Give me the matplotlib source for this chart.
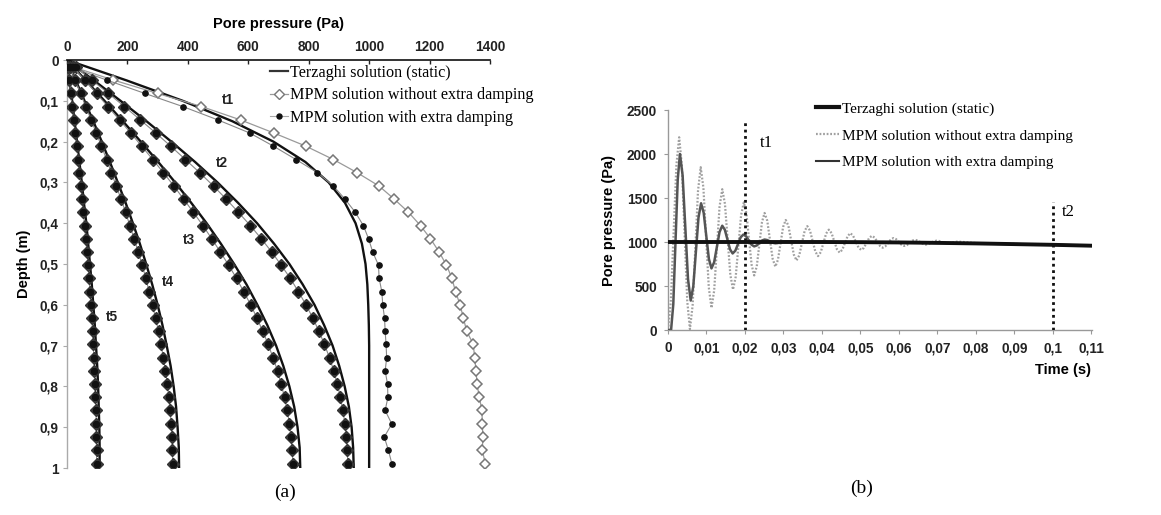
import matplotlib
matplotlib.use("Agg")
import matplotlib.pyplot as plt
from matplotlib.lines import Line2D

# ---------------- Panel (a) data ----------------
# Terzaghi (static) solution, depth grid for lines
terz_depth = [0.0, 0.05, 0.1, 0.15, 0.2, 0.25, 0.3, 0.35, 0.4, 0.45, 0.5,
              0.55, 0.6, 0.65, 0.7, 0.75, 0.8, 0.85, 0.9, 0.95, 1.0]
terz_t1 = [0, 197, 383, 547, 683, 789, 866, 920, 955, 976, 988,
           994, 997, 999, 1000, 1000, 1000, 1000, 1000, 1000, 1000]
terz_t2 = [0, 89, 177, 263, 345, 424, 498, 566, 629, 685, 736,
           780, 819, 851, 879, 901, 919, 933, 942, 947, 949]
terz_t3 = [0, 62, 124, 185, 244, 302, 358, 411, 462, 509, 553,
           594, 630, 663, 692, 716, 736, 752, 763, 770, 772]
terz_t4 = [0, 29, 58, 87, 115, 142, 168, 194, 218, 241, 262,
           282, 300, 316, 330, 343, 353, 361, 366, 370, 371]
terz_t5 = [0, 8, 17, 25, 33, 41, 49, 56, 64, 70, 76,
           82, 87, 92, 96, 100, 103, 105, 107, 108, 108]

# MPM material-point depths
mpm_depth = [0.017, 0.049, 0.082, 0.114, 0.147, 0.179, 0.211, 0.244, 0.276, 0.309,
             0.341, 0.373, 0.406, 0.438, 0.471, 0.503, 0.535, 0.568, 0.600, 0.633,
             0.665, 0.697, 0.730, 0.762, 0.795, 0.827, 0.859, 0.892, 0.924, 0.957, 0.989]
# MPM without extra damping at t1
mpm_nodamp_t1 = [20, 153, 300, 445, 575, 685, 790, 882, 960, 1033,
                 1083, 1130, 1170, 1203, 1232, 1256, 1274, 1286, 1301, 1312,
                 1323, 1345, 1349, 1354, 1357, 1365, 1373, 1375, 1376, 1375, 1384]
# MPM with extra damping at t1
mpm_damp_t1 = [10, 131, 258, 383, 500, 605, 683, 758, 829, 882,
               920, 954, 981, 998, 1012, 1031, 1033, 1042, 1045, 1051,
               1053, 1056, 1058, 1053, 1061, 1062, 1053, 1075, 1050, 1064, 1075]
# MPM results at t2..t5 (both variants coincide)
mpm_t2 = [29, 82, 137, 190, 243, 294, 343, 392, 439, 485,
          527, 567, 607, 643, 678, 709, 739, 766, 791, 814,
          834, 852, 869, 883, 895, 905, 913, 920, 925, 928, 929]
mpm_t3 = [20, 58, 98, 135, 174, 211, 247, 284, 319, 354,
          386, 418, 450, 479, 508, 535, 561, 585, 608, 629,
          648, 666, 682, 697, 709, 720, 729, 736, 741, 745, 748]
mpm_t4 = [9, 27, 45, 62, 80, 97, 114, 131, 147, 163,
          179, 194, 208, 222, 236, 249, 261, 272, 283, 293,
          303, 311, 319, 326, 332, 337, 341, 345, 348, 349, 350]
mpm_t5 = [3, 8, 13, 17, 22, 27, 32, 37, 41, 46,
          50, 54, 58, 62, 66, 70, 73, 76, 79, 82,
          85, 87, 89, 91, 93, 94, 96, 97, 97, 98, 98]

a_xticks = [0, 200, 400, 600, 800, 1000, 1200, 1400]
a_yticks = [0, 0.1, 0.2, 0.3, 0.4, 0.5, 0.6, 0.7, 0.8, 0.9, 1.0]
a_yticklabels = ["0", "0,1", "0,2", "0,3", "0,4", "0,5", "0,6", "0,7", "0,8", "0,9", "1"]

# ---------------- Panel (b) data ----------------
terz_b_time = [0.0, 0.04, 0.05, 0.06, 0.07, 0.08, 0.09, 0.10, 0.11]
terz_b_p = [1000, 1000, 998, 995, 990, 984, 976, 968, 958]

nodamp_time = [0.0, 0.000725, 0.00145, 0.002175, 0.0029,
               0.0036, 0.0043, 0.0050, 0.0057,
               0.0064, 0.0071, 0.0078, 0.0085,
               0.0092, 0.0099, 0.0106, 0.0113,
               0.0120, 0.0127, 0.0134, 0.0141,
               0.0148, 0.0155, 0.0162, 0.0169,
               0.0176, 0.0183, 0.0190, 0.0197,
               0.020375, 0.02105, 0.021725, 0.0224,
               0.023075, 0.02375, 0.024425, 0.0251,
               0.0258, 0.0265, 0.0272, 0.0279,
               0.028575, 0.02925, 0.029925, 0.0306,
               0.0313, 0.0320, 0.0327, 0.0334,
               0.0341, 0.0348, 0.0355, 0.0362,
               0.0369, 0.0376, 0.0383, 0.0390,
               0.0397, 0.0404, 0.0411, 0.0418,
               0.0425, 0.0432, 0.0439, 0.0446,
               0.0453, 0.0460, 0.0467, 0.0474,
               0.0481, 0.0488, 0.0495, 0.0502,
               0.0509, 0.0516, 0.0523, 0.0530,
               0.0537, 0.0544, 0.0551, 0.0558,
               0.0565, 0.0572, 0.0579, 0.0586,
               0.0593, 0.0600, 0.0607, 0.0614,
               0.0621, 0.0628, 0.0635, 0.0642,
               0.0649, 0.0656, 0.0663, 0.0670,
               0.0677, 0.0684, 0.0691, 0.0698,
               0.0705, 0.0712, 0.0719, 0.0726,
               0.0733, 0.0740, 0.0747, 0.0754,
               0.080, 0.090, 0.100, 0.110]
nodamp_p = [0, 321, 1095, 1869, 2190,
            1871, 1100, 329, 10,
            279, 930, 1581, 1850,
            1616, 1050, 484, 250,
            448, 925, 1402, 1600,
            1433, 1030, 627, 460,
            605, 955, 1305, 1450,
            1328, 1035, 742, 620,
            724, 975, 1226, 1330,
            1241, 1025, 809, 720,
            798, 985, 1172, 1250,
            1183, 1020, 857, 790,
            847, 985, 1123, 1180,
            1130, 1010, 890, 840,
            884, 990, 1096, 1140,
            1102, 1010, 918, 880,
            912, 990, 1068, 1100,
            1072, 1005, 938, 910,
            933, 990, 1047, 1070,
            1050, 1003, 955, 935,
            951, 990, 1029, 1045,
            1032, 1000, 968, 955,
            965, 990, 1015, 1025,
            1017, 998, 978, 970,
            977, 993, 1008, 1015,
            1011, 1000, 989, 985,
            988, 995, 1002, 1005,
            988, 978, 968, 958]

damp_time = [0.0, 0.0008, 0.001375, 0.00195, 0.002525, 0.0031,
             0.0038, 0.0045, 0.0052, 0.0059,
             0.006575, 0.00725, 0.007925, 0.0086,
             0.009275, 0.00995, 0.010625, 0.0113,
             0.0120, 0.0127, 0.0134, 0.0141,
             0.014775, 0.01545, 0.016125, 0.0168,
             0.0175, 0.0182, 0.0189, 0.0196,
             0.0203, 0.0210, 0.0217, 0.0224,
             0.023075, 0.02375, 0.024425, 0.0251,
             0.0258, 0.0265, 0.0272, 0.0279,
             0.028575, 0.02925, 0.029925, 0.0306,
             0.035, 0.05, 0.06, 0.07, 0.08, 0.09, 0.10, 0.11]
damp_p = [0, 0, 293, 1000, 1707, 2000,
          1756, 1168, 579, 335,
          497, 888, 1278, 1440,
          1332, 1070, 808, 700,
          771, 943, 1114, 1185,
          1139, 1028, 916, 870,
          901, 978, 1054, 1085,
          1065, 1018, 970, 950,
          961, 989, 1017, 1028,
          1022, 1007, 991, 985,
          988, 997, 1005, 1008,
          1000, 998, 995, 990, 984, 976, 968, 958]

b_xticks = [0, 0.01, 0.02, 0.03, 0.04, 0.05, 0.06, 0.07, 0.08, 0.09, 0.10, 0.11]
b_xticklabels = ["0", "0,01", "0,02", "0,03", "0,04", "0,05", "0,06", "0,07",
                 "0,08", "0,09", "0,1", "0,11"]
b_yticks = [0, 500, 1000, 1500, 2000, 2500]
t_marks = [0.02, 0.10]
t_mark_tops = [2390, 1455]

SANS = "Liberation Sans"
SERIF = "Liberation Serif"

W, H = 1161, 515
fig = plt.figure(figsize=(W / 100, H / 100), dpi=100)
fig.patch.set_facecolor("white")


def fx(px):
    return px / W


def fy(py):
    return 1 - py / H


# ---------------- Panel (a) ----------------
ax1 = fig.add_axes([fx(67), fy(468), fx(490 - 67), (468 - 60) / H])
ax1.set_xlim(0, 1400)
ax1.set_ylim(1.0, 0.0)
for s in ["bottom", "right"]:
    ax1.spines[s].set_visible(False)
ax1.spines["top"].set_color("#222222")
ax1.spines["top"].set_linewidth(1.3)
ax1.spines["left"].set_color("#aaaaaa")
ax1.spines["left"].set_linewidth(1.0)
ax1.xaxis.set_ticks_position("top")
ax1.xaxis.set_label_position("top")
ax1.set_xticks(a_xticks)
ax1.set_xticklabels([str(v) for v in a_xticks], fontfamily=SANS,
                    fontweight="bold", fontsize=9.8)
ax1.set_yticks(a_yticks)
ax1.set_yticklabels(a_yticklabels, fontfamily=SANS, fontweight="bold", fontsize=9.8)
ax1.tick_params(axis="x", direction="in", length=3, width=1, colors="#222222", pad=4)
ax1.tick_params(axis="y", direction="out", length=3, width=0.8, color="#aaaaaa",
                labelcolor="#222222", pad=3)
ax1.set_xlabel("Pore pressure (Pa)", fontfamily=SANS, fontweight="bold",
               fontsize=10.5, labelpad=9)
ax1.set_ylabel("Depth (m)", fontfamily=SANS, fontweight="bold", fontsize=10.5,
               labelpad=6)

terz_all = [terz_t1, terz_t2, terz_t3, terz_t4, terz_t5]
for tz in terz_all:
    ax1.plot(tz, terz_depth, color="#111111", lw=1.7, zorder=3)

# t1 MPM curves
ax1.plot(mpm_nodamp_t1, mpm_depth, color="#9a9a9a", lw=0.9, marker="D", ms=5.4,
         mfc="white", mec="#777777", mew=1.1, zorder=4)
ax1.plot(mpm_damp_t1, mpm_depth, color="#888888", lw=0.8, marker="o", ms=3.8,
         mfc="#111111", mec="#111111", zorder=4)

# t2..t5 MPM curves (both variants overlap)
for mv in [mpm_t2, mpm_t3, mpm_t4, mpm_t5]:
    ax1.plot(mv, mpm_depth, color="#888888", lw=0.8, marker="D", ms=6.2,
             mfc="#444444", mec="#333333", mew=1.0, zorder=4)
    ax1.plot(mv, mpm_depth, ls="none", marker="o", ms=4.4,
             mfc="#111111", mec="#111111", zorder=5)

for lbl, (px, py) in zip(["t1", "t2", "t3", "t4", "t5"],
                         [(228, 100), (222, 163), (189, 240), (168, 282), (112, 317)]):
    fig.text(fx(px), fy(py), lbl, fontfamily=SANS, fontweight="bold", fontsize=9.8,
             ha="center", va="center", color="#222222")

h_a = [Line2D([], [], color="#333333", lw=1.6),
       Line2D([], [], color="#9a9a9a", lw=0.9, marker="D", ms=5, mfc="white",
              mec="#777777", mew=1.0),
       Line2D([], [], color="#aaaaaa", lw=0.8, marker="o", ms=3.6, mfc="#111111",
              mec="#111111")]
fig.legend(h_a, ["Terzaghi solution (static)",
                 "MPM solution without extra damping",
                 "MPM solution with extra damping"],
           loc="upper left", bbox_to_anchor=(fx(270), fy(65)),
           frameon=False, prop={"family": SERIF, "size": 11.6},
           handlelength=1.1, handletextpad=0.15, labelspacing=0.4,
           borderpad=0.0, borderaxespad=0.0)

fig.text(fx(285), fy(492), "(a)", fontfamily=SERIF, fontsize=14, ha="center",
         va="center")

# ---------------- Panel (b) ----------------
ax2 = fig.add_axes([fx(668), fy(330), fx(1092 - 668), (330 - 110) / H])
ax2.set_xlim(0, 0.1102)
ax2.set_ylim(0, 2500)
for s in ["top", "right"]:
    ax2.spines[s].set_visible(False)
for s in ["left", "bottom"]:
    ax2.spines[s].set_color("#999999")
    ax2.spines[s].set_linewidth(1.0)
ax2.set_xticks(b_xticks)
ax2.set_xticklabels(b_xticklabels, fontfamily=SANS, fontweight="bold", fontsize=9.8)
ax2.set_yticks(b_yticks)
ax2.set_yticklabels([str(v) for v in b_yticks], fontfamily=SANS, fontweight="bold",
                    fontsize=9.8)
ax2.tick_params(direction="out", length=3, width=0.8, color="#999999",
                labelcolor="#222222", pad=5)
ax2.set_ylabel("Pore pressure (Pa)", fontfamily=SANS, fontweight="bold",
               fontsize=10.5, labelpad=8)
fig.text(fx(1063), fy(370), "Time (s)", fontfamily=SANS, fontweight="bold",
         fontsize=10.5, ha="center", va="center")

ax2.plot(nodamp_time, nodamp_p, color="#a0a0a0", lw=1.6, ls=(0, (0.8, 0.8)),
         zorder=3)
ax2.plot(damp_time, damp_p, color="#555555", lw=1.8, zorder=4)
ax2.plot(terz_b_time, terz_b_p, color="#111111", lw=2.8, zorder=5)

for tm, top in zip(t_marks, t_mark_tops):
    ax2.plot([tm, tm], [0, top], color="#111111", lw=2.0, ls=(0, (1.0, 1.3)),
             zorder=6)
fig.text(fx(766), fy(143), "t1", fontfamily=SERIF, fontsize=12, ha="center",
         va="center")
fig.text(fx(1068), fy(212), "t2", fontfamily=SERIF, fontsize=12, ha="center",
         va="center")

h_b = [Line2D([], [], color="#111111", lw=3.0),
       Line2D([], [], color="#a0a0a0", lw=1.6, ls=(0, (0.8, 0.8))),
       Line2D([], [], color="#333333", lw=1.5)]
fig.legend(h_b, ["Terzaghi solution (static)",
                 "MPM solution without extra damping",
                 "MPM solution with extra damping"],
           loc="upper left", bbox_to_anchor=(fx(816), fy(102)),
           frameon=False, prop={"family": SERIF, "size": 11.0},
           handlelength=1.5, handletextpad=0.2, labelspacing=0.85,
           borderpad=0.0, borderaxespad=0.0)

fig.text(fx(862), fy(488), "(b)", fontfamily=SERIF, fontsize=14, ha="center",
         va="center")

fig.savefig("out.png", dpi=100, facecolor="white")
